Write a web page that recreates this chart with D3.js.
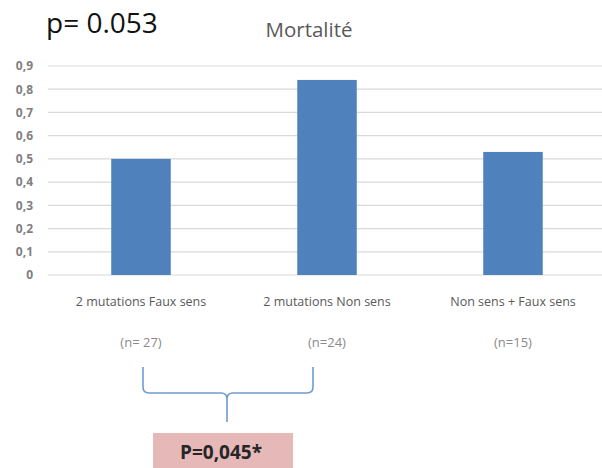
<!DOCTYPE html>
<html><head><meta charset="utf-8">
<script src="https://cdn.jsdelivr.net/npm/d3@7"></script>
<style>body{margin:0;background:#fff}svg{display:block}</style>
</head><body>
<svg id="c" width="602" height="468"></svg>
<script>
const categories = ["2 mutations Faux sens", "2 mutations Non sens", "Non sens + Faux sens"];
const nLabels = ["(n= 27)", "(n=24)", "(n=15)"];
const values = [0.50, 0.84, 0.53];
const yTicks = [0, 0.1, 0.2, 0.3, 0.4, 0.5, 0.6, 0.7, 0.8, 0.9];
const title = "Mortalité";
const pGlobal = "p= 0.053";
const pPair = "P=0,045*";

const svg = d3.select("#c");
const font = "'Open Sans', 'Noto Sans', sans-serif";
const x = d3.scaleBand().domain(categories).range([48, 606]).paddingInner(0.68).paddingOuter(0.34);
const y = d3.scaleLinear().domain([0, 0.9]).range([275, 66]);

// grid
svg.append("g").selectAll("line").data(yTicks).join("line")
  .attr("x1", 48).attr("x2", 602)
  .attr("y1", d => y(d)).attr("y2", d => y(d))
  .attr("stroke", "#d9d9d9").attr("stroke-width", 1.2);

// y axis labels
const yAxis = d3.axisLeft(y).tickValues(yTicks)
  .tickFormat(d => d === 0 ? "0" : d3.format(".1f")(d).replace(".", ","))
  .tickSize(0).tickPadding(0);
const ya = svg.append("g").attr("transform", "translate(33,0)").call(yAxis);
ya.select(".domain").remove();
ya.selectAll("text").attr("font-family", font).attr("font-size", 12).attr("fill", "#7f7f7f").attr("font-weight", "bold");

// bars
svg.append("g").selectAll("rect").data(values).join("rect")
  .attr("x", (d, i) => x(categories[i]))
  .attr("width", x.bandwidth())
  .attr("y", d => y(d))
  .attr("height", d => y(0) - y(d))
  .attr("fill", "#4f81bd");

// category labels
const xAxis = d3.axisBottom(x).tickSize(0).tickPadding(0);
const xa = svg.append("g").attr("transform", "translate(0,297)").call(xAxis);
xa.select(".domain").remove();
xa.selectAll("text").attr("font-family", font).attr("font-size", 12.5).attr("fill", "#595959");

svg.append("g").selectAll("text").data(nLabels).join("text")
  .attr("x", (d, i) => x(categories[i]) + x.bandwidth() / 2)
  .attr("y", 347).attr("text-anchor", "middle")
  .attr("font-family", font).attr("font-size", 13).attr("fill", "#8a8a8a")
  .text(d => d);

// titles
svg.append("text").attr("x", 309).attr("y", 37).attr("text-anchor", "middle")
  .attr("font-family", font).attr("font-size", 20.5).attr("fill", "#595959").text(title);
svg.append("text").attr("x", 46).attr("y", 33)
  .attr("font-family", font).attr("font-size", 28).attr("fill", "#111").text(pGlobal);

// brace
const bx1 = 143, bx2 = 313, bmid = (bx1 + bx2) / 2 - 1;
const bt = 367, bb = 393, btip = 422, r = 6;
const p = d3.path();
p.moveTo(bx1, bt); p.lineTo(bx1, bb - r); p.quadraticCurveTo(bx1, bb, bx1 + r, bb);
p.lineTo(bmid - r, bb); p.quadraticCurveTo(bmid, bb, bmid, bb + r); p.lineTo(bmid, btip);
p.moveTo(bmid, bb + r); p.quadraticCurveTo(bmid, bb, bmid + r, bb);
p.lineTo(bx2 - r, bb); p.quadraticCurveTo(bx2, bb, bx2, bb - r); p.lineTo(bx2, bt);
svg.append("path").attr("d", p.toString()).attr("fill", "none")
  .attr("stroke", "#6f9bd1").attr("stroke-width", 1.6);

// p box
svg.append("rect").attr("x", 153).attr("y", 433).attr("width", 140).attr("height", 40).attr("fill", "#e6b9b8");
svg.append("text").attr("x", 221).attr("y", 459).attr("text-anchor", "middle")
  .attr("font-family", font).attr("font-size", 19).attr("font-weight", "bold").attr("fill", "#262626").text(pPair);
</script>
</body></html>
